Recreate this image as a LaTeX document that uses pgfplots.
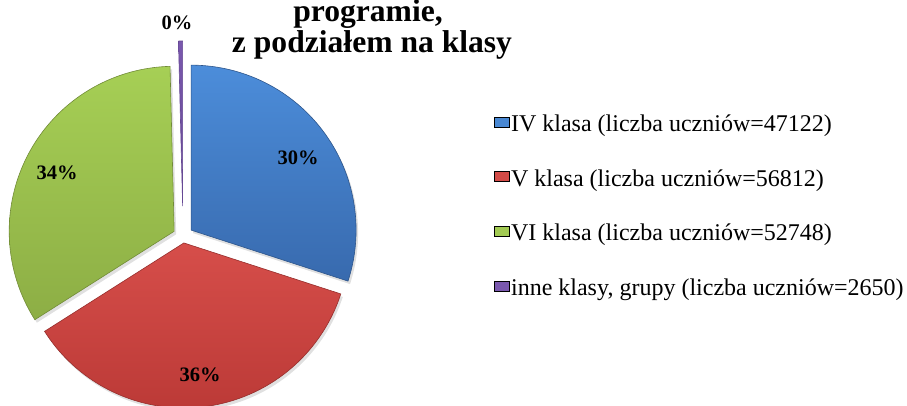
\documentclass[border=0pt]{standalone}
\usepackage{fontspec}
\setmainfont{Liberation Serif}
\usepackage{pgfplots}
\pgfplotsset{compat=1.18}

\definecolor{bTop}{HTML}{4C8DDA}
\definecolor{bBot}{HTML}{386AAE}
\definecolor{rTop}{HTML}{D64E4A}
\definecolor{rBot}{HTML}{BC3A37}
\definecolor{gTop}{HTML}{A6CF55}
\definecolor{gBot}{HTML}{8DAE45}
\definecolor{pTop}{HTML}{7A58AE}
\definecolor{pBot}{HTML}{664894}

% pie geometry (px units): centre, radius
\def\cx{183}\def\cy{169}\def\R{165}
% #1 start angle, #2 end angle, #3 explode direction, #4 explode distance, #5 style
\newcommand{\slice}[5]{%
  \addplot[forget plot, #5, samples at={-1,0,1,...,80,81}]
   ({\cx + #4*cos(#3) + ((x<0 || x>80) ? 0 : \R*cos(#1 + (#2-(#1))*x/80))},
    {\cy + #4*sin(#3) + ((x<0 || x>80) ? 0 : \R*sin(#1 + (#2-(#1))*x/80))});
}

\begin{document}
\begin{tikzpicture}
\begin{axis}[
  scale only axis, width=907pt, height=405pt,
  xmin=0, xmax=907, ymin=0, ymax=405,
  hide axis, clip=false,
  legend style={at={(axis cs:494,199)}, anchor=west, draw=none, fill=none,
    font=\fontsize{24}{28}\selectfont, row sep=33.5pt, inner sep=0pt,
    nodes={inner sep=1.5pt}},
  legend cell align=left,
  legend image code/.code={\fill[#1] (0pt,-3pt) rectangle (15pt,7pt);},
]
% shares in percent: IV 30, V 36, VI 33.6, inne 0.4 (labels 30%, 36%, 34%, 0%)
% slice angles: clockwise from 90 deg
% shadows
\slice{90}{-18}{36}{10}{fill=black, fill opacity=0.12, draw=none, xshift=2pt, yshift=-3pt}
\slice{-18}{-147.6}{-82.8}{7}{fill=black, fill opacity=0.12, draw=none, xshift=2pt, yshift=-3pt}
\slice{-147.6}{-268.56}{-208.08}{10}{fill=black, fill opacity=0.12, draw=none, xshift=2pt, yshift=-3pt}
% slices
\slice{90}{-18}{36}{10}{top color=bTop, bottom color=bBot, draw=bBot!80!black, line width=0.6pt}
\slice{-18}{-147.6}{-82.8}{7}{top color=rTop, bottom color=rBot, draw=rBot!80!black, line width=0.6pt}
\slice{-147.6}{-268.56}{-208.08}{10}{top color=gTop, bottom color=gBot, draw=gBot!80!black, line width=0.6pt}
\slice{-268.56}{-270}{-269.28}{30}{top color=pTop, bottom color=pBot, draw=pBot, line width=0.6pt}

\addlegendimage{fill=bTop!85!bBot}
\addlegendentry{IV klasa (liczba uczniów=47122)}
\addlegendimage{fill=rTop!85!rBot}
\addlegendentry{V klasa (liczba uczniów=56812)}
\addlegendimage{fill=gTop!85!gBot}
\addlegendentry{VI klasa (liczba uczniów=52748)}
\addlegendimage{fill=pTop}
\addlegendentry{inne klasy, grupy (liczba uczniów=2650)}

% percentage labels
\begin{scope}[every node/.style={font=\fontsize{20.5}{22}\selectfont\bfseries, inner sep=0pt}]
\node at (axis cs:298,247) {30\%};
\node at (axis cs:200,30) {36\%};
\node at (axis cs:57,232) {34\%};
\node at (axis cs:177,382) {0\%};
\end{scope}

% title (top line cut off by the frame, as in the reference)
\node[anchor=base, font=\fontsize{31.6}{32}\selectfont\bfseries, inner sep=0pt] at (axis cs:368,383) {programie,};
\node[anchor=base, font=\fontsize{31.6}{32}\selectfont\bfseries, inner sep=0pt] at (axis cs:372,352) {z podziałem na klasy};

\coordinate (bl) at (axis cs:0,0);
\coordinate (tr) at (axis cs:907,405);
\end{axis}
\pgfresetboundingbox
\useasboundingbox (bl) rectangle (tr);
\end{tikzpicture}
\end{document}
